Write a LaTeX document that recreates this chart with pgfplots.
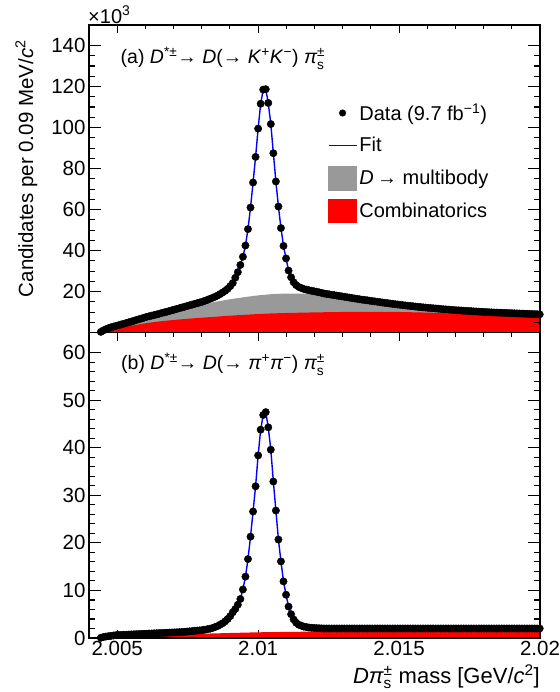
\documentclass[border=0pt]{standalone}
\usepackage{fontspec}
\setmainfont{Liberation Sans}
\usepackage{amsmath}
\usepackage{pgfplots}
\pgfplotsset{compat=1.18}
\usepackage{pgfplotstable}

\definecolor{mbgrey}{RGB}{153,153,153}
\definecolor{combred}{RGB}{255,0,0}
\definecolor{fitblue}{RGB}{0,0,255}

\newcommand{\pis}{\ensuremath{\textit{π}^{\text{±}}_{\text{s}}}}

\pgfplotstableread{
x y
2.00442 0.4
2.00451 1.1
2.00460 1.7
2.00469 2.2
2.00478 2.6
2.00487 3.0
2.00496 3.3
2.00505 3.65
2.00514 4.0
2.00523 4.35
2.00532 4.7
2.00541 5.05
2.00550 5.4
2.00559 5.8
2.00568 6.2
2.00577 6.55
2.00586 6.9
2.00595 7.3
2.00604 7.7
2.00613 8.0
2.00622 8.3
2.00631 8.6
2.00640 8.9
2.00649 9.25
2.00658 9.6
2.00667 9.9
2.00676 10.2
2.00685 10.55
2.00694 10.9
2.00703 11.25
2.00712 11.6
2.00721 11.95
2.00730 12.3
2.00739 12.65
2.00748 13.0
2.00757 13.35
2.00766 13.7
2.00775 14.05
2.00784 14.4
2.00793 14.75
2.00802 15.1
2.00811 15.55
2.00820 16.0
2.00829 16.5
2.00838 17.0
2.00847 17.5
2.00856 18.1
2.00865 18.8
2.00874 19.6
2.00883 20.4
2.00892 21.4
2.00901 22.7
2.00910 24.2
2.00919 26.8
2.00928 29.5
2.00937 33.0
2.00946 37.0
2.00955 42.5
2.00964 50.5
2.00973 61.0
2.00982 73.2
2.00991 85.7
2.01000 99.5
2.01009 111.6
2.01018 118.5
2.01027 118.7
2.01036 112.0
2.01045 101.7
2.01054 87.5
2.01063 73.7
2.01072 61.5
2.01081 51.0
2.01090 42.3
2.01099 36.2
2.01108 30.3
2.01117 27.0
2.01126 24.6
2.01135 23.2
2.01144 22.3
2.01153 21.8
2.01162 21.3
2.01171 21.0
2.01180 20.7
2.01189 20.45
2.01198 20.2
2.01207 19.95
2.01216 19.7
2.01225 19.4
2.01234 19.1
2.01243 18.9
2.01252 18.7
2.01261 18.5
2.01270 18.3
2.01279 18.1
2.01288 17.9
2.01297 17.7
2.01306 17.5
2.01315 17.3
2.01324 17.1
2.01333 16.9
2.01342 16.7
2.01351 16.5
2.01360 16.3
2.01369 16.1
2.01378 15.95
2.01387 15.8
2.01396 15.6
2.01405 15.4
2.01414 15.25
2.01423 15.1
2.01432 14.9
2.01441 14.7
2.01450 14.55
2.01459 14.4
2.01468 14.2
2.01477 14.05
2.01486 13.9
2.01495 13.75
2.01504 13.6
2.01513 13.45
2.01522 13.3
2.01531 13.15
2.01540 13.0
2.01549 12.9
2.01558 12.75
2.01567 12.6
2.01576 12.5
2.01585 12.35
2.01594 12.25
2.01603 12.1
2.01612 12.0
2.01621 11.9
2.01630 11.8
2.01639 11.7
2.01648 11.55
2.01657 11.45
2.01666 11.35
2.01675 11.25
2.01684 11.15
2.01693 11.05
2.01702 10.95
2.01711 10.9
2.01720 10.8
2.01729 10.7
2.01738 10.65
2.01747 10.55
2.01756 10.5
2.01765 10.4
2.01774 10.35
2.01783 10.25
2.01792 10.2
2.01801 10.1
2.01810 10.05
2.01819 9.95
2.01828 9.9
2.01837 9.85
2.01846 9.8
2.01855 9.75
2.01864 9.7
2.01873 9.65
2.01882 9.6
2.01891 9.55
2.01900 9.5
2.01909 9.45
2.01918 9.4
2.01927 9.35
2.01936 9.3
2.01945 9.25
2.01954 9.2
2.01963 9.15
2.01972 9.1
2.01981 9.05
2.01990 9.0
2.01999 8.95
}\topdata

\pgfplotstableread{
x y
2.00442 0
2.00450 0.8
2.00470 1.8
2.00500 3.0
2.00550 5.2
2.00600 7.2
2.00650 9.1
2.00700 10.8
2.00750 12.4
2.00800 13.8
2.00850 15.1
2.00900 16.3
2.00950 17.3
2.01000 18.2
2.01050 18.8
2.01100 19.1
2.01150 19.1
2.01200 18.8
2.01250 18.2
2.01300 17.3
2.01350 16.2
2.01400 15.0
2.01450 14.0
2.01500 13.1
2.01600 11.5
2.01700 10.3
2.01800 9.4
2.01900 8.8
2.02000 8.3
}\topgrey

\pgfplotstableread{
x y
2.00442 0
2.00450 0.6
2.00470 1.2
2.00500 2.1
2.00550 3.4
2.00600 4.6
2.00650 5.5
2.00700 6.2
2.00750 6.8
2.00800 7.3
2.00850 7.8
2.00900 8.3
2.00950 8.7
2.01000 9.1
2.01050 9.4
2.01100 9.6
2.01200 9.9
2.01300 10.1
2.01400 10.2
2.01500 10.1
2.01600 9.8
2.01700 9.3
2.01800 8.7
2.01900 8.1
2.02000 7.5
}\topred

\pgfplotstableread{
x y
2.00442 0.05
2.00451 0.2
2.00460 0.3
2.00469 0.38
2.00478 0.45
2.00487 0.53
2.00496 0.6
2.00505 0.63
2.00514 0.65
2.00523 0.68
2.00532 0.7
2.00541 0.73
2.00550 0.75
2.00559 0.78
2.00568 0.8
2.00577 0.83
2.00586 0.85
2.00595 0.88
2.00604 0.9
2.00613 0.93
2.00622 0.95
2.00631 0.98
2.00640 1.0
2.00649 1.03
2.00658 1.05
2.00667 1.08
2.00676 1.1
2.00685 1.13
2.00694 1.15
2.00703 1.18
2.00712 1.2
2.00721 1.23
2.00730 1.25
2.00739 1.3
2.00748 1.35
2.00757 1.4
2.00766 1.45
2.00775 1.5
2.00784 1.55
2.00793 1.6
2.00802 1.65
2.00811 1.75
2.00820 1.85
2.00829 1.95
2.00838 2.1
2.00847 2.3
2.00856 2.5
2.00865 2.8
2.00874 3.1
2.00883 3.5
2.00892 4.0
2.00901 4.6
2.00910 5.4
2.00919 6.1
2.00928 7.0
2.00937 8.2
2.00946 10.2
2.00955 12.9
2.00964 16.6
2.00973 21.3
2.00982 26.6
2.00991 31.9
2.01000 38.4
2.01009 43.8
2.01018 46.9
2.01027 47.5
2.01036 44.3
2.01045 39.6
2.01054 32.9
2.01063 26.8
2.01072 20.7
2.01081 16.1
2.01090 11.9
2.01099 9.1
2.01108 6.6
2.01117 5.0
2.01126 3.9
2.01135 3.2
2.01144 2.8
2.01153 2.6
2.01162 2.4
2.01171 2.3
2.01180 2.2
2.01189 2.15
2.01198 2.1
2.01207 2.07
2.01216 2.05
2.01225 2.02
2.01234 2.0
2.01243 2.0
2.01252 2.0
2.01261 2.0
2.01270 2.0
2.01279 2.0
2.01288 2.0
2.01297 2.0
2.01306 2.0
2.01315 2.0
2.01324 2.0
2.01333 2.0
2.01342 2.0
2.01351 2.0
2.01360 2.0
2.01369 2.0
2.01378 2.0
2.01387 2.0
2.01396 2.0
2.01405 2.0
2.01414 2.0
2.01423 2.0
2.01432 2.0
2.01441 2.0
2.01450 2.0
2.01459 2.0
2.01468 2.0
2.01477 2.0
2.01486 2.0
2.01495 2.0
2.01504 2.0
2.01513 2.0
2.01522 2.0
2.01531 2.0
2.01540 2.0
2.01549 2.0
2.01558 2.0
2.01567 2.0
2.01576 2.0
2.01585 2.0
2.01594 2.0
2.01603 2.0
2.01612 2.0
2.01621 2.0
2.01630 2.0
2.01639 2.0
2.01648 2.0
2.01657 2.0
2.01666 2.0
2.01675 2.0
2.01684 2.0
2.01693 2.0
2.01702 2.0
2.01711 2.0
2.01720 2.0
2.01729 2.0
2.01738 2.0
2.01747 2.0
2.01756 2.0
2.01765 2.0
2.01774 2.0
2.01783 2.0
2.01792 2.0
2.01801 2.0
2.01810 2.0
2.01819 2.0
2.01828 2.0
2.01837 2.0
2.01846 2.0
2.01855 2.0
2.01864 2.0
2.01873 2.0
2.01882 2.0
2.01891 2.0
2.01900 2.0
2.01909 2.0
2.01918 2.0
2.01927 2.0
2.01936 2.0
2.01945 2.0
2.01954 2.0
2.01963 2.0
2.01972 2.0
2.01981 2.0
2.01990 2.0
2.01999 2.0
}\botdata

\pgfplotstableread{
x y
2.00442 0
2.00500 0.2
2.00600 0.45
2.00700 0.7
2.00800 0.9
2.00900 1.05
2.01000 1.2
2.01200 1.35
2.01400 1.45
2.01600 1.5
2.01800 1.55
2.02000 1.55
}\botred

\pgfplotsset{
  panel/.style={
    scale only axis, width=451pt,
    xmin=2.004, xmax=2.02,
    xtick={2.005,2.01,2.015,2.02},
    minor x tick num=4,
    axis line style={line width=1.2pt},
    every tick/.style={line width=1.1pt, black},
    every minor tick/.style={line width=1.1pt, black},
    /pgf/number format/assume math mode=true,
    scaled ticks=false,
    tick align=inside,
    tick label style={font=\fontsize{20.5}{24}\selectfont},
  },
}

\begin{document}
\begin{tikzpicture}[font=\fontsize{20}{24}\selectfont]
\path[use as bounding box] (0,0) rectangle (559pt,692pt);

% ---------- top panel ----------
\begin{axis}[panel, at={(89pt,359.3pt)}, anchor=south west, height=307.7pt,
  ymin=0, ymax=150, ytick={0,20,...,140},
  yticklabels={,20,40,60,80,100,120,140},
  minor y tick num=3, xticklabels={},
  major tick length=8pt, minor tick length=4pt,
  ytick style={draw=none},
  legend style={draw=none, fill=none, at={(0.529,0.752)}, anchor=north west,
    inner sep=0pt, row sep=9.5pt, font=\fontsize{20}{24}\selectfont},
  legend cell align=left,
  legend columns=1,
  ]
\addlegendimage{legend image code/.code={\path[draw=none,fill=none] (0pt,-11.5pt) rectangle (28pt,11.5pt); \fill[black] (14pt,0pt) circle (3.3pt);}}
\addlegendentry{Data (9.7 fb\textsuperscript{−1})}
\addlegendimage{legend image code/.code={\path[draw=none,fill=none] (0pt,-11.5pt) rectangle (28pt,11.5pt); \draw[color=fitblue, line width=1.6pt] (0pt,0pt) -- (28pt,0pt);}}
\addlegendentry{Fit}
\addlegendimage{legend image code/.code={\fill[mbgrey] (0pt,-11.5pt) rectangle (28pt,11.5pt);}}
\addlegendentry{\textit{D}\,→ multibody}
\addlegendimage{legend image code/.code={\fill[combred] (0pt,-11.5pt) rectangle (28pt,11.5pt);}}
\addlegendentry{Combinatorics}

\addplot[fill=mbgrey, draw=none, forget plot] table[x=x, y=y] {\topgrey} \closedcycle;
\addplot[fill=combred, draw=none, forget plot] table[x=x, y=y] {\topred} \closedcycle;
\addplot[only marks, mark=*, mark size=3.7pt, black, forget plot] table[x=x, y=y] {\topdata};
\addplot[fitblue, line width=1.4pt, forget plot] table[x=x, y=y] {\topdata};
\end{axis}
\begin{axis}[panel, at={(89pt,359.3pt)}, anchor=south west, height=307.7pt,
  ymin=0, ymax=150, ytick={0,20,...,140}, yticklabels={},
  minor y tick num=3, xtick=\empty,
  major tick length=12pt, minor tick length=6pt]
\end{axis}

% ---------- bottom panel ----------
\begin{axis}[panel, at={(89pt,54pt)}, anchor=south west, height=305.3pt,
  ymin=0, ymax=64.2, ytick={0,10,...,60},
  minor y tick num=4,
  xticklabels={2.005,2.01,2.015,2.02},
  major tick length=8pt, minor tick length=4pt,
  ytick style={draw=none},
  ]
\addplot[fill=combred, draw=none] table[x=x, y=y] {\botred} \closedcycle;
\addplot[only marks, mark=*, mark size=3.7pt, black] table[x=x, y=y] {\botdata};
\addplot[fitblue, line width=1.4pt] table[x=x, y=y] {\botdata};
\end{axis}
\begin{axis}[panel, at={(89pt,54pt)}, anchor=south west, height=305.3pt,
  ymin=0, ymax=64.2, ytick={0,10,...,60}, yticklabels={},
  minor y tick num=4, xtick=\empty,
  major tick length=12pt, minor tick length=6pt]
\end{axis}

% ---------- texts ----------
\node[anchor=base west, inner sep=0pt] at (88pt,668.7pt) {×10\textsuperscript{3}};
\node[anchor=base west, inner sep=0pt, font=\fontsize{19.5}{23}\selectfont] at (120.5pt,628pt)
  {(a) \textit{D}\textsuperscript{*±}→ \textit{D}(→ \textit{K}\textsuperscript{+}\textit{K}\textsuperscript{−}) \pis};
\node[anchor=base west, inner sep=0pt, font=\fontsize{19.5}{23}\selectfont] at (121pt,322pt)
  {(b) \textit{D}\textsuperscript{*±}→ \textit{D}(→ \textit{π}\textsuperscript{+}\textit{π}\textsuperscript{−}) \pis};
\node[anchor=base east, inner sep=0pt, font=\fontsize{22}{26}\selectfont] at (540pt,9pt)
  {\textit{D}\pis{} mass [GeV/\textit{c}\textsuperscript{2}]};
\node[anchor=base east, inner sep=0pt, rotate=90, font=\fontsize{20.5}{24}\selectfont] at (33pt,652pt)
  {Candidates per 0.09 MeV/\textit{c}\textsuperscript{2}};
\end{tikzpicture}
\end{document}
